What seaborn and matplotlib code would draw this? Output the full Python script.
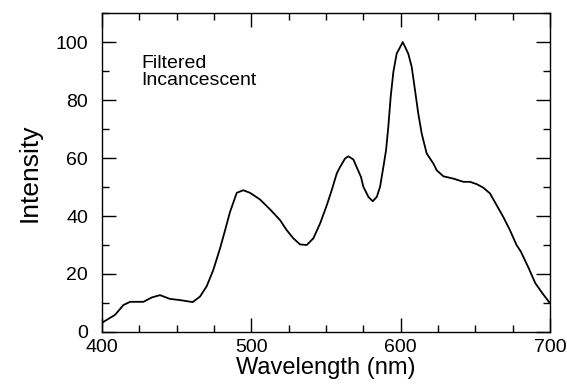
import numpy as np
import pandas as pd
import seaborn as sns
import matplotlib.pyplot as plt
from matplotlib.ticker import MultipleLocator

# values
wavelength = [400, 408.7, 414.3, 418.8, 427.7, 433.3, 438.8, 445.5, 452.2, 460.7,
              465.6, 470.1, 474.5, 479.0, 482.4, 485.7, 490.2, 494.6, 499.1, 505.8,
              512.5, 519.2, 523.7, 528.1, 532.6, 537.1, 541.5, 546.0, 550.5, 553.8,
              557.2, 559.4, 562.7, 564.9, 568.3, 570.5, 573.4, 575.0, 578.4, 581.3,
              584.0, 586.2, 588.4, 590.2, 591.7, 593.3, 595.1, 597.3, 601.4, 605.1,
              607.4, 609.6, 611.8, 614.1, 617.4, 621.9, 624.1, 628.6, 635.3, 642.0,
              646.4, 650.9, 655.3, 659.8, 664.3, 668.7, 673.2, 677.6, 680.5, 685.3,
              690.2, 695.0, 700.0]
intensity = [3.2, 5.9, 9.3, 10.4, 10.4, 11.9, 12.7, 11.4, 11.0, 10.3,
             12.2, 15.8, 21.4, 28.8, 35.1, 41.4, 48.0, 48.9, 48.0, 45.7,
             42.3, 38.6, 35.1, 32.3, 30.2, 30.0, 32.3, 37.4, 43.7, 48.9,
             54.7, 56.9, 59.8, 60.6, 59.5, 56.9, 53.5, 50.1, 46.6, 45.1,
             46.6, 50.1, 56.9, 62.7, 70.7, 81.1, 89.7, 96.0, 100.0, 96.0,
             91.4, 83.4, 75.3, 68.4, 61.6, 58.1, 55.8, 53.7, 52.9, 51.8,
             51.8, 51.0, 49.8, 47.8, 43.7, 39.7, 35.1, 30.0, 27.7, 22.5,
             16.8, 13.3, 9.9]
label_text = "Filtered\nIncancescent"

df = pd.DataFrame({"Wavelength (nm)": wavelength, "Intensity": intensity})

sns.set_style("ticks")
plt.rcParams["font.family"] = ["Liberation Sans", "DejaVu Sans"]
plt.rcParams["text.color"] = "black"
plt.rcParams["axes.labelcolor"] = "black"

fig = plt.figure(figsize=(5.67, 3.86), dpi=100)
ax = fig.add_axes([0.180, 0.140, 0.790, 0.826])
sns.lineplot(data=df, x="Wavelength (nm)", y="Intensity", color="black",
             linewidth=1.3, ax=ax)

ax.set_xlim(400, 700)
ax.set_ylim(0, 110)
ax.xaxis.set_major_locator(MultipleLocator(100))
ax.xaxis.set_minor_locator(MultipleLocator(25))
ax.yaxis.set_major_locator(MultipleLocator(20))
ax.yaxis.set_minor_locator(MultipleLocator(10))
ax.tick_params(which="both", direction="in", top=True, right=True,
               labelsize=14, color="black", labelcolor="black", width=1)
ax.tick_params(which="major", length=10)
ax.tick_params(which="minor", length=5)
ax.tick_params(axis="x", which="major", pad=5)
ax.tick_params(axis="y", which="major", pad=10)
for s in ax.spines.values():
    s.set_linewidth(1)
    s.set_color("black")

ax.set_xlabel("Wavelength (nm)", fontsize=17, labelpad=1)
ax.set_ylabel("Intensity", fontsize=19, labelpad=10)
ax.text(426, 95.5, label_text, fontsize=14, va="top", ha="left",
        linespacing=0.95, color="black")

plt.savefig("out.png", dpi=100)
